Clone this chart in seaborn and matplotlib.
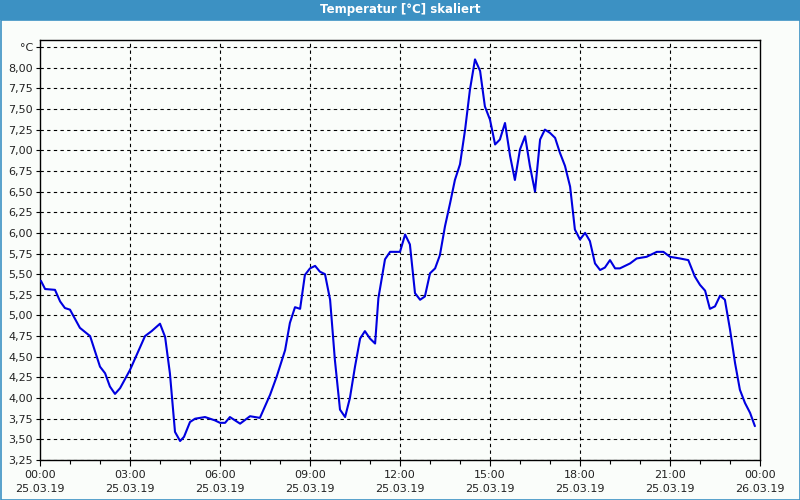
import matplotlib
matplotlib.use("Agg")
import matplotlib.pyplot as plt
import seaborn as sns
import pandas as pd
import numpy as np
from matplotlib.patches import Rectangle
from matplotlib.ticker import FixedLocator, MultipleLocator

# ---- data (hours since 25.03.19 00:00, temperature in °C) ----
hours = [0.03, 0.17, 0.5, 0.67, 0.83, 1.0, 1.33, 1.67, 2.0, 2.17, 2.33, 2.5, 2.67,
         3.0, 3.22, 3.5, 3.72, 4.0, 4.17, 4.33, 4.5, 4.67, 4.8, 5.0, 5.17, 5.5,
         5.83, 6.0, 6.17, 6.33, 6.67, 7.0, 7.33, 7.67, 7.89, 8.17, 8.33, 8.5,
         8.67, 8.83, 9.0, 9.17, 9.33, 9.5, 9.67, 9.83, 10.0, 10.17, 10.33, 10.5,
         10.67, 10.83, 11.0, 11.17, 11.28, 11.5, 11.67, 12.0, 12.17, 12.33, 12.5,
         12.67, 12.83, 13.0, 13.17, 13.33, 13.5, 13.67, 13.83, 14.0, 14.17, 14.33,
         14.5, 14.67, 14.83, 15.0, 15.17, 15.33, 15.5, 15.67, 15.83, 16.0, 16.17,
         16.33, 16.5, 16.67, 16.83, 17.0, 17.17, 17.33, 17.5, 17.67, 17.83, 18.0,
         18.17, 18.33, 18.5, 18.67, 18.83, 19.0, 19.17, 19.33, 19.67, 19.89, 20.22,
         20.56, 20.78, 21.0, 21.33, 21.61, 21.83, 22.0, 22.17, 22.33, 22.5, 22.67,
         22.83, 23.0, 23.17, 23.33, 23.5, 23.67, 23.83]
temps = [5.42, 5.32, 5.31, 5.17, 5.09, 5.07, 4.85, 4.75, 4.38, 4.30, 4.14, 4.05, 4.12,
         4.34, 4.52, 4.75, 4.81, 4.90, 4.74, 4.30, 3.59, 3.48, 3.53, 3.71, 3.75, 3.77,
         3.73, 3.70, 3.70, 3.77, 3.69, 3.78, 3.76, 4.04, 4.26, 4.58, 4.91, 5.10,
         5.08, 5.49, 5.57, 5.60, 5.53, 5.50, 5.19, 4.46, 3.86, 3.77, 4.00, 4.38,
         4.72, 4.81, 4.72, 4.66, 5.21, 5.68, 5.77, 5.77, 5.98, 5.86, 5.27,
         5.19, 5.23, 5.51, 5.57, 5.73, 6.08, 6.36, 6.64, 6.83, 7.25, 7.73,
         8.10, 7.96, 7.53, 7.37, 7.07, 7.13, 7.33, 6.93, 6.64, 7.01, 7.17,
         6.81, 6.50, 7.13, 7.25, 7.21, 7.15, 6.97, 6.81, 6.56, 6.04, 5.92,
         6.00, 5.90, 5.63, 5.55, 5.58, 5.67, 5.57, 5.57, 5.63, 5.69, 5.71,
         5.77, 5.77, 5.71, 5.69, 5.67, 5.47, 5.37, 5.30, 5.08, 5.11, 5.24,
         5.19, 4.83, 4.42, 4.10, 3.94, 3.82, 3.66]

x_ticks = [0, 3, 6, 9, 12, 15, 18, 21, 24]
x_labels = ["00:00\n25.03.19", "03:00\n25.03.19", "06:00\n25.03.19", "09:00\n25.03.19",
            "12:00\n25.03.19", "15:00\n25.03.19", "18:00\n25.03.19", "21:00\n25.03.19",
            "00:00\n26.03.19"]
y_ticks = [3.25, 3.5, 3.75, 4.0, 4.25, 4.5, 4.75, 5.0, 5.25, 5.5, 5.75, 6.0, 6.25,
           6.5, 6.75, 7.0, 7.25, 7.5, 7.75, 8.0, 8.25]
y_labels = ["3,25", "3,50", "3,75", "4,00", "4,25", "4,50", "4,75", "5,00", "5,25",
            "5,50", "5,75", "6,00", "6,25", "6,50", "6,75", "7,00", "7,25", "7,50",
            "7,75", "8,00", "°C"]
title = "Temperatur [°C] skaliert"

df = pd.DataFrame({"hour": hours, "temp": temps})

sns.set_theme(style="white")
plt.rcParams["font.family"] = ["DejaVu Sans"]

bg = "#FAFDFA"
blue_bar = "#3C91C3"

fig = plt.figure(figsize=(8, 5), dpi=100, facecolor=bg)
ax = fig.add_axes([40 / 800, 40 / 500, 720 / 800, 420 / 500])
ax.set_facecolor(bg)

sns.lineplot(data=df, x="hour", y="temp", ax=ax, color="#0000E0", linewidth=1.5,
             zorder=3)

ax.set_xlim(0, 24)
ax.set_ylim(3.25, 8.25 + 7 / 82.5)

ax.set_xticks(x_ticks)
ax.set_xticklabels(x_labels, fontsize=8, color="#222222", linespacing=1.55)
ax.xaxis.set_minor_locator(MultipleLocator(1))
ax.set_yticks(y_ticks)
ax.set_yticklabels(y_labels, fontsize=8, color="#222222")
ax.set_xlabel("")
ax.set_ylabel("")

ax.tick_params(axis="x", which="major", direction="out", length=4, width=0.8,
               color="black", pad=3, bottom=True)
ax.tick_params(axis="x", which="minor", direction="out", length=3, width=0.8,
               color="black", bottom=True)
ax.tick_params(axis="y", which="major", direction="out", length=3, width=0.8,
               color="black", pad=2, left=True)

for y in y_ticks:
    ax.axhline(y, color="black", lw=0.8, ls=(0, (3, 3)), zorder=1)
for x in x_ticks[1:-1]:
    ax.axvline(x, color="black", lw=0.8, ls=(0, (3, 3)), zorder=1)

for s in ax.spines.values():
    s.set_color("black")
    s.set_linewidth(1.0)
    s.set_visible(True)

# title bar and window border
fig.patches.append(Rectangle((0, 1 - 20 / 500), 1, 20 / 500, transform=fig.transFigure,
                             facecolor=blue_bar, edgecolor="none", zorder=0))
fig.patches.append(Rectangle((0.5 / 800, 0.5 / 500), 799 / 800, 1 - 20 / 500,
                             transform=fig.transFigure, facecolor="none",
                             edgecolor=blue_bar, lw=1.2, zorder=0))
fig.text(0.5, 1 - 10 / 500, title, ha="center", va="center", color="white",
         fontsize=8.5, fontweight="bold")

fig.savefig("out.png", dpi=100, facecolor=bg)
